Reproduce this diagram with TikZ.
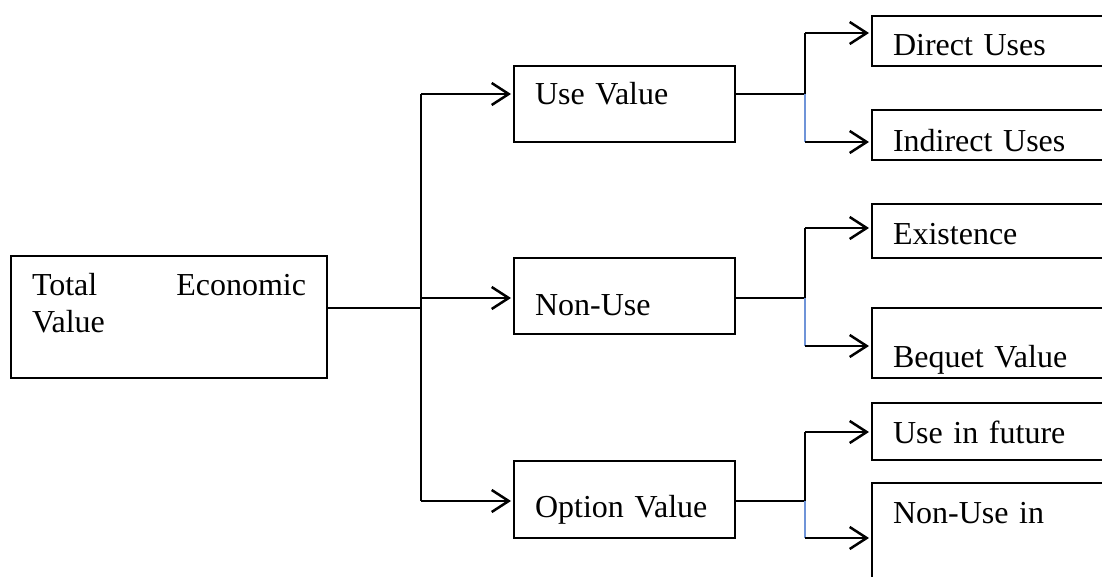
\documentclass[tikz,border=0pt]{standalone}
\usepackage{fontspec}
\setmainfont{Liberation Serif}
\usetikzlibrary{arrows.meta}
\definecolor{junctionblue}{HTML}{6F94D8}
\tikzset{
  box/.style={draw, line width=1.3pt, inner xsep=21pt, inner ysep=0pt, outer sep=0pt,
    align=left, anchor=north west, font=\fontsize{32}{37}\selectfont},
  thinline/.style={line width=1.2pt},
  arr/.style={line width=2.5pt, -{Straight Barb[length=17pt,width=22pt,line width=2.5pt]}, shorten >=3pt},
  blueline/.style={line width=1.2pt, draw=junctionblue}
}
\begin{document}
\begin{tikzpicture}[x=1pt,y=-1pt]
\useasboundingbox (0,0) rectangle (1102,577);
\clip (0,0) rectangle (1102,577);
% left box
\node[box, text width=274pt, text height=39pt, text depth=83pt] (total) at (11,256) {Total\hfill Economic\\Value};
% middle boxes
\node[box, text width=179pt, text height=39pt, text depth=37pt] (uv) at (514,66) {Use Value};
\node[box, text width=179pt, text height=57pt, text depth=19pt] (nu) at (514,258) {Non-Use};
\node[box, text width=179pt, text height=56pt, text depth=21pt] (ov) at (514,461) {Option Value};
% right boxes
\node[box, text width=216pt, text height=40pt, text depth=10pt] (du) at (872,16) {Direct Uses};
\node[box, text width=216pt, text height=42pt, text depth=8pt] (iu) at (872,110) {Indirect Uses};
\node[box, text width=216pt, text height=40pt, text depth=14pt] (ex) at (872,204) {Existence};
\node[box, text width=216pt, text height=59pt, text depth=11pt] (bv) at (872,308) {Bequet Value};
\node[box, text width=216pt, text height=40pt, text depth=17pt] (uf) at (872,403) {Use in future};
\node[box, text width=216pt, text height=40pt, text depth=77pt] (nf) at (872,483) {Non-Use in};
% trunk
\coordinate (tj) at (421,308);
\coordinate (t1) at (421,94);
\coordinate (t2) at (421,298);
\coordinate (t3) at (421,501);
\draw[thinline] (total.east |- tj) -- (tj);
\draw[thinline] (t1) -- (t3);
\draw[arr] (t1) -- (uv.west |- t1);
\draw[arr] (t2) -- (nu.west |- t2);
\draw[arr] (t3) -- (ov.west |- t3);
% junction 1
\coordinate (j1) at (805,94);
\coordinate (j1a) at (805,33);
\coordinate (j1b) at (805,142);
\draw[thinline] (uv.east |- j1) -- (j1) -- (j1a);
\draw[blueline] (j1) -- (j1b);
\draw[arr] (j1a) -- (du.west |- j1a);
\draw[arr] (j1b) -- (iu.west |- j1b);
% junction 2
\coordinate (j2) at (805,298);
\coordinate (j2a) at (805,228);
\coordinate (j2b) at (805,346);
\draw[thinline] (nu.east |- j2) -- (j2) -- (j2a);
\draw[blueline] (j2) -- (j2b);
\draw[arr] (j2a) -- (ex.west |- j2a);
\draw[arr] (j2b) -- (bv.west |- j2b);
% junction 3
\coordinate (j3) at (805,501);
\coordinate (j3a) at (805,432);
\coordinate (j3b) at (805,538);
\draw[thinline] (ov.east |- j3) -- (j3) -- (j3a);
\draw[blueline] (j3) -- (j3b);
\draw[arr] (j3a) -- (uf.west |- j3a);
\draw[arr] (j3b) -- (nf.west |- j3b);
\end{tikzpicture}
\end{document}
